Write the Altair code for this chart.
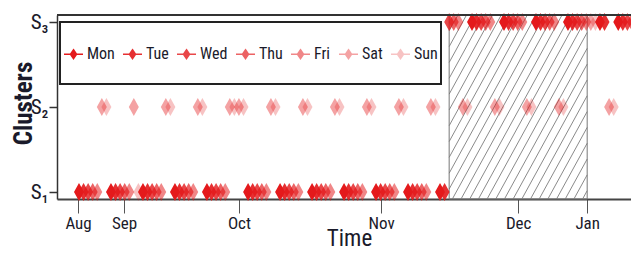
import altair as alt
import pandas as pd

# ---------------- data ----------------
WEEKDAYS = ["Mon", "Tue", "Wed", "Thu", "Fri", "Sat", "Sun"]
WEEKDAY_ALPHA = [1.0, 0.9, 0.8, 0.68, 0.52, 0.4, 0.26]
BASE_RED = "#E41A1C"

# observation index where each run of days starts, weekday of its first day,
# and the cluster (1 = S1, 2 = S2, 3 = S3) of each consecutive day in the run
SEG_START = [0, 7, 14, 21, 28, 35, 37, 44, 51, 58, 65, 72, 79, 86, 93, 100, 107, 114, 116, 118]
SEG_FIRST = ["Mon", "Mon", "Mon", "Mon", "Mon", "Sat", "Mon", "Mon", "Mon", "Mon",
             "Mon", "Mon", "Mon", "Mon", "Mon", "Mon", "Mon", "Mon", "Sat", "Mon"]
SEG_STATES = ["1111122", "1111121", "1111122", "1111122", "1111122", "22",
              "1111122", "1111122", "1111122", "1111122", "1111122", "1111122",
              "1133322", "3333322", "3333322", "3333322", "3333333", "33", "22", "3333"]

TICK_POS = [-0.2, 9.85, 35.0, 66.1, 96.1, 111.2]
TICK_LABELS = ["Aug", "Sep", "Oct", "Nov", "Dec", "Jan"]
CLUSTER_LEVELS = [1, 2, 3]
CLUSTER_LABELS = ["S₁", "S₂", "S₃"]

HATCH_START = 81.0
HATCH_END = 111.2
HATCH_SPACING = 1.9   # days between hatch lines
HATCH_RUN = 22.1      # horizontal run (days) of a hatch line over the full height

X_MIN, X_MAX = -4.81, 120.79
Y_MIN, Y_MAX = 1 - 7 / 85, 3 + 7 / 85

FONT = "Liberation Sans Narrow, Arial Narrow, Roboto Condensed, DejaVu Sans Condensed, Liberation Sans, sans-serif"
DIAMOND = "M0,-1L0.55,0L0,1L-0.55,0Z"
# legend key: a line with a small diamond; the two bare moves only make the
# key as tall as the legend row
LEGEND_SYMBOL = "M-1,0L1,0M0,-0.47L0.32,0L0,0.47L-0.32,0ZM0,-2.42M0,2.42"

# ---------------- tables ----------------
rows = []
for start, first, states in zip(SEG_START, SEG_FIRST, SEG_STATES):
    w0 = WEEKDAYS.index(first)
    for i, s in enumerate(states):
        rows.append({"day": start + i, "weekday": WEEKDAYS[(w0 + i) % 7], "cluster": int(s)})
df = pd.DataFrame(rows)

hatch_rows = []
xb = HATCH_START - HATCH_RUN
while xb < HATCH_END:
    t0 = max(0.0, (HATCH_START - xb) / HATCH_RUN)
    t1 = min(1.0, (HATCH_END - xb) / HATCH_RUN)
    if t1 > t0:
        hatch_rows.append({
            "x": xb + t0 * HATCH_RUN, "y": Y_MIN + t0 * (Y_MAX - Y_MIN),
            "x2": xb + t1 * HATCH_RUN, "y2": Y_MIN + t1 * (Y_MAX - Y_MIN)})
    xb += HATCH_SPACING
hatch_df = pd.DataFrame(hatch_rows)

x_scale = alt.Scale(domain=[X_MIN, X_MAX], nice=False, zero=False)
y_scale = alt.Scale(domain=[Y_MIN, Y_MAX], nice=False, zero=False)

tick_expr = "[" + ",".join(f"'{t}'" for t in TICK_LABELS) + "][indexof([" + ",".join(str(p) for p in TICK_POS) + "], datum.value)]"
clus_expr = "[" + ",".join(f"'{t}'" for t in CLUSTER_LABELS) + "][indexof([" + ",".join(str(p) for p in CLUSTER_LEVELS) + "], datum.value)]"

x_axis = alt.Axis(values=TICK_POS, labelExpr=tick_expr, title="Time", grid=False,
                  domainColor="#444", domainWidth=2, tickColor="#555", tickWidth=1, tickSize=14,
                  labelFont=FONT, labelFontSize=17, labelColor="#1a1a2a", labelPadding=2,
                  labelFlush=False, labelOverlap=False,
                  titleFont=FONT, titleFontSize=23, titleFontWeight="normal", titleColor="#1a1a2a",
                  titleBaseline="alphabetic", titleX=292, titleY=46, titlePadding=0)
y_axis = alt.Axis(values=CLUSTER_LEVELS, labelExpr=clus_expr, title="Clusters", grid=False,
                  domainColor="#333", domainWidth=1.5, tickColor="#333", tickWidth=1.5, tickSize=8,
                  labelFont=FONT, labelFontSize=21, labelColor="#1a1a2a", labelPadding=1,
                  labelBaseline="middle", labelFlush=False, labelOverlap=False,
                  titleFont=FONT, titleFontSize=25, titleFontWeight="bold", titleColor="#1a1a2a",
                  titleBaseline="middle", titleX=-34, titleY=88, titleAngle=270)

leg = alt.Legend(title=" ", titleFontSize=10, titlePadding=8.5, orient="none", legendX=3, legendY=7,
                 direction="horizontal",
                 symbolType=LEGEND_SYMBOL, symbolSize=361, symbolStrokeWidth=1.5,
                 labelFont=FONT, labelFontSize=16, labelColor="#1a1a2a", labelOffset=3,
                 columnPadding=5, padding=3, strokeColor="#222", fillColor="white")

hatch = alt.Chart(hatch_df).mark_rule(color="#8a8a8a", strokeWidth=1).encode(
    x=alt.X("x:Q", scale=x_scale, axis=x_axis), x2="x2:Q",
    y=alt.Y("y:Q", scale=y_scale, axis=y_axis), y2="y2:Q")

hatch_box = alt.Chart(pd.DataFrame({"a": [0]})).mark_rect(fillOpacity=0, stroke="#777", strokeWidth=1).encode(
    x=alt.X(datum=HATCH_START, scale=x_scale, axis=x_axis, type="quantitative"), x2=alt.datum(HATCH_END),
    y=alt.Y(datum=Y_MIN, scale=y_scale, axis=y_axis, type="quantitative"), y2=alt.datum(Y_MAX))

points = alt.Chart(df).mark_point(filled=True, shape=DIAMOND, size=196).encode(
    x=alt.X("day:Q", scale=x_scale, axis=x_axis),
    y=alt.Y("cluster:Q", scale=y_scale, axis=y_axis),
    color=alt.Color("weekday:O", sort=WEEKDAYS,
                    scale=alt.Scale(type="ordinal", domain=WEEKDAYS, range=[BASE_RED] * 7), legend=leg),
    stroke=alt.Stroke("weekday:O", sort=WEEKDAYS,
                      scale=alt.Scale(type="ordinal", domain=WEEKDAYS, range=[BASE_RED] * 7), legend=leg),
    opacity=alt.Opacity("weekday:O", sort=WEEKDAYS,
                        scale=alt.Scale(type="ordinal", domain=WEEKDAYS, range=WEEKDAY_ALPHA), legend=leg),
)

top_line = alt.Chart(pd.DataFrame({"a": [0]})).mark_rule(color="#333", strokeWidth=2).encode(
    x=alt.X(datum=X_MIN, scale=x_scale, axis=x_axis, type="quantitative"), x2=alt.datum(X_MAX),
    y=alt.Y(datum=Y_MAX, scale=y_scale, axis=y_axis, type="quantitative"))

chart = alt.layer(hatch, hatch_box, points, top_line).properties(
    width=574, height=184,
    autosize=alt.AutoSizeParams(type="none"),
    padding={"left": 49, "top": 7, "right": 0, "bottom": 52},
    background="white",
).configure_view(stroke=None)

try:
    trial = chart.configure_legend(strokeWidth=2)
    trial.to_dict()
    chart = trial
except Exception:
    pass

chart.save("out.html", embed_options={"renderer": "svg", "actions": False})
